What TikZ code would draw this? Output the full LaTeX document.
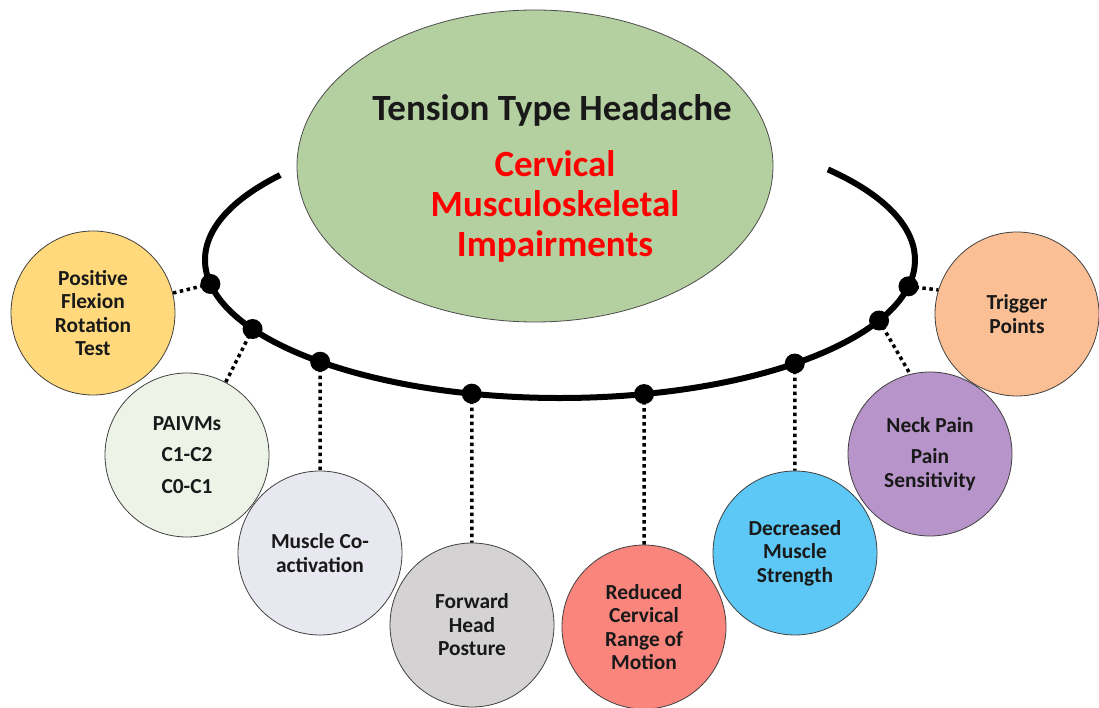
\documentclass[tikz,border=0pt]{standalone}
\usepackage{fontspec}
\setmainfont{Carlito}
\usetikzlibrary{shapes.geometric}
\definecolor{headgreen}{HTML}{B5D0A0}
\definecolor{pfrtyellow}{HTML}{FFD97C}
\definecolor{paivmgreen}{HTML}{EEF3E8}
\definecolor{coactgray}{HTML}{E7E8F0}
\definecolor{fhpgray}{HTML}{D4D2D2}
\definecolor{romred}{HTML}{FA857C}
\definecolor{strengthblue}{HTML}{5DC8F5}
\definecolor{neckpurple}{HTML}{B794C9}
\definecolor{triggerpeach}{HTML}{FBBF95}
\begin{document}
\begin{tikzpicture}[x=1pt, y=1pt, line join=round,
  item/.style={circle, draw=black!75, line width=0.8pt, minimum size=164pt, inner sep=0pt,
    align=center, text=black!90, font=\bfseries\fontsize{21.4}{23.5}\selectfont},
  dot/.style={circle, fill=black, inner sep=0pt, minimum size=20pt},
  link/.style={line width=3.5pt, dash pattern=on 3.5pt off 3.5pt}]
  \def\rx{355}\def\ry{138}
  \useasboundingbox (0,0) rectangle (1099,707);
  % centre
  \node[ellipse, draw=black!70, line width=0.8pt, fill=headgreen,
    minimum width=476pt, minimum height=312pt] (tth) at (535,541) {};
  \node[font=\bfseries\fontsize{37}{40}\selectfont, text=black!90] (title) at (552,597) {Tension Type Headache};
  \node[font=\bfseries\fontsize{37}{40}\selectfont, text=red, align=center] (cmi) at (555,501)
    {Cervical\\Musculoskeletal\\Impairments};
  % ring
  \draw[line width=6pt] (560,447) ++(142:\rx pt and \ry pt)
    arc[start angle=142, end angle=401, x radius=\rx pt, y radius=\ry pt];
  % circles
  \node[item, fill=pfrtyellow] (c1) at (93,394) {Positive\\Flexion\\Rotation\\Test};
  \node[item, fill=paivmgreen] (c2) at (187,252) {PAIVMs\\[8pt]C1-C2\\[8pt]C0-C1};
  \node[item, fill=coactgray] (c3) at (320,154) {Muscle Co-\\activation};
  \node[item, fill=fhpgray] (c4) at (472,82) {Forward\\Head\\Posture};
  \node[item, fill=romred] (c5) at (644,80) {Reduced\\Cervical\\Range of\\Motion};
  \node[item, fill=strengthblue] (c6) at (795,154) {Decreased\\Muscle\\Strength};
  \node[item, fill=neckpurple] (c7) at (930,253) {Neck Pain\\[8pt]Pain\\Sensitivity};
  \node[item, fill=triggerpeach] (c8) at (1017,393) {Trigger\\Points};
  % dots and links
  \foreach \a [count=\i] in {190,210,227.5,255.6,283.7,311.4,334,349}
    \coordinate (p\i) at ([shift={(\a:\rx pt and \ry pt)}]560,447);
  \draw[link] (p1) -- (c1.14);
  \draw[link] (p2) -- (c2.62);
  \foreach \i in {3,...,6} \draw[link] (p\i) -- (c\i);
  \draw[link] (p7) -- (c7.104);
  \draw[link] (p8) -- (c8.163);
  \foreach \i in {1,...,8} \node[dot] (d\i) at (p\i) {};
\end{tikzpicture}
\end{document}
